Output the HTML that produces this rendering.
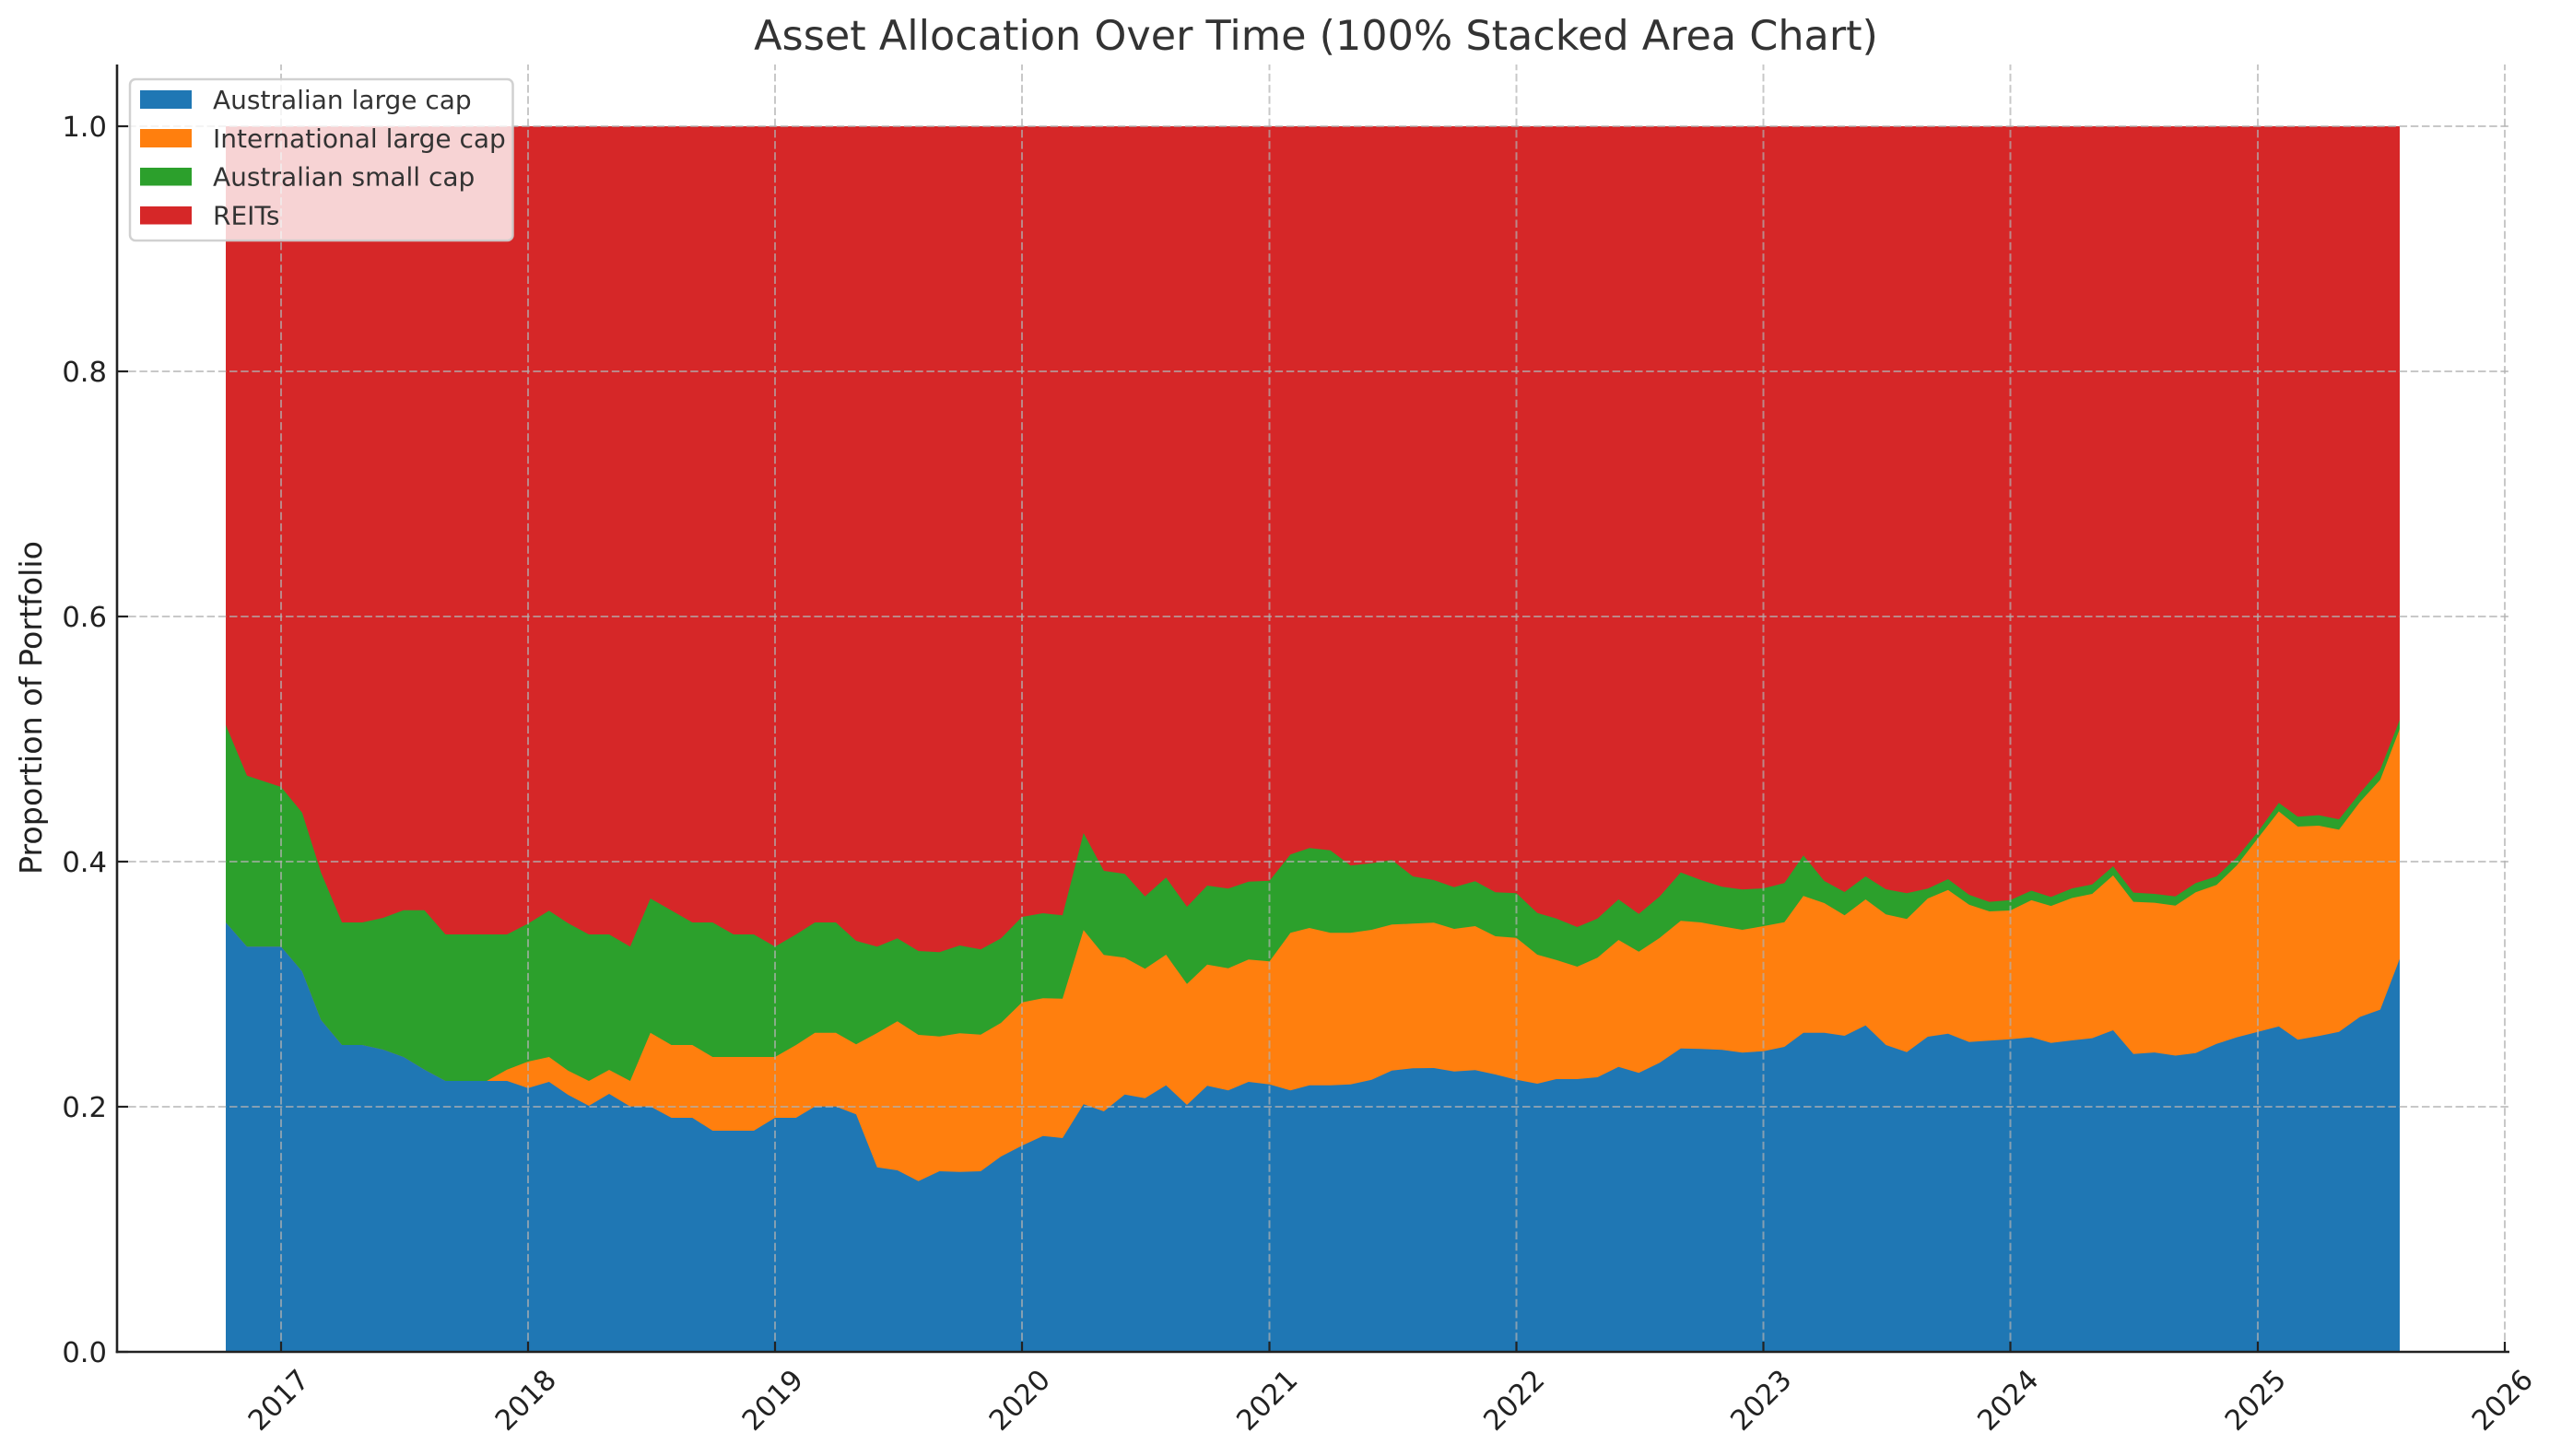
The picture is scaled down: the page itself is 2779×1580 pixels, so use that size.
<!DOCTYPE html>
<html>
<head>
<meta charset="utf-8">
<style>
  html, body { margin: 0; padding: 0; background: #ffffff; }
  svg { display: block; }
  text { font-family: "DejaVu Sans", "Liberation Sans", sans-serif; }
</style>
</head>
<body>
<svg width="2779" height="1580" viewBox="0 0 2779 1580" xmlns="http://www.w3.org/2000/svg">
  <rect x="0" y="0" width="2779" height="1580" fill="#ffffff"/>

  <!-- REITs (top layer area, drawn as full band first) -->
  <rect x="245" y="137" width="2359" height="1330" fill="#d62728"/>

  <!-- Australian small cap (cumulative b3) -->
  <polygon fill="#2ca02c" points="245,1467 245,786.7 268,841.7 305,854 327.8,881.7 348.3,946.7 371.1,1001 393.1,1001 415.8,996 437.9,987.7 460.6,987.7 483.4,1014 505.4,1014 528.2,1014 550.2,1014 573,1002.3 595.8,988.3 616.3,1001.7 639,1014 661,1014 683.8,1027.3 705.8,975 728.6,988 751.3,1001 773.3,1001 796,1014 818,1014 841,1027.3 863.8,1014 884.3,1001 907,1001 929,1021 951.8,1027.3 973.8,1018.3 996.6,1032 1019.4,1033.3 1041.4,1026 1064.2,1030.3 1086.2,1018.3 1109,995 1131.7,991 1153,993.3 1175.8,904 1197.8,945 1220.5,948.3 1242.5,972.7 1265.3,952.3 1288,984 1310,961 1332.8,964.3 1354.8,956.7 1377.6,955.7 1400.3,927.3 1420.9,920.3 1443.6,922.7 1465.6,939.3 1488.4,936.7 1510.4,933.3 1533.1,951 1555.9,955 1577.9,962.7 1600.7,956.3 1622.7,968.3 1645.5,969.3 1668.2,990.7 1688.8,996.7 1711.5,1006 1733.5,996.7 1756.3,976 1778.3,991.7 1801,972.7 1823.8,946.7 1845.8,955 1868.6,962.3 1890.6,965.3 1913.6,964 1936.3,958.3 1956.9,928.3 1979.6,956 2001.6,968 2024.4,951 2046.4,965 2069.1,969.3 2091.9,964.3 2113.9,954 2136.7,971 2158.7,978.7 2181.5,976.7 2204.3,966.5 2225.6,973.4 2248.3,964.1 2270.3,959.7 2293,940 2315,968.6 2337.8,970 2360.6,972.7 2382.6,958.3 2405.3,951 2427.3,930.4 2450,902.9 2472.8,871.2 2493.4,886.3 2516.1,884.6 2538.1,889.1 2560.9,860.5 2582.9,835 2604,781.3 2604,1467"/>

  <!-- International large cap (cumulative b2) -->
  <polygon fill="#ff7f0e" points="245,1467 245,1001 268,1027.3 305,1027.3 327.8,1054 348.3,1106.7 371.1,1134 393.1,1134 415.8,1139 437.9,1147 460.6,1160.7 483.4,1173 505.4,1173 528.2,1173 550.2,1160.7 573,1152 595.8,1147 616.3,1161.7 639,1173 661,1161 683.8,1173 705.8,1120.7 728.6,1134 751.3,1134 773.3,1147 796,1147 818,1147 841,1147 863.8,1134 884.3,1120.7 907,1120.7 929,1133.3 951.8,1121 973.8,1108.3 996.6,1123 1019.4,1124.7 1041.4,1121.3 1064.2,1122.7 1086.2,1110 1109,1087.7 1131.7,1083.3 1153,1083.7 1175.8,1009.3 1197.8,1036.3 1220.5,1039.3 1242.5,1051.3 1265.3,1036 1288,1067.7 1310,1046.7 1332.8,1050.7 1354.8,1041.3 1377.6,1043.3 1400.3,1012.3 1420.9,1007 1443.6,1012.3 1465.6,1012.3 1488.4,1009 1510.4,1003.3 1533.1,1002.3 1555.9,1001.3 1577.9,1008 1600.7,1005 1622.7,1016 1645.5,1017.7 1668.2,1036 1688.8,1041.7 1711.5,1049 1733.5,1039.3 1756.3,1020 1778.3,1032.7 1801,1017.7 1823.8,999.3 1845.8,1001 1868.6,1005.3 1890.6,1009 1913.6,1005 1936.3,1000.7 1956.9,972.3 1979.6,980 2001.6,993.3 2024.4,976 2046.4,992.3 2069.1,997.3 2091.9,975 2113.9,965.7 2136.7,981.7 2158.7,989 2181.5,988 2204.3,976.9 2225.6,983.1 2248.3,974.5 2270.3,970 2293,950 2315,978.6 2337.8,979.6 2360.6,982.7 2382.6,968.3 2405.3,960.3 2427.3,939 2450,909.7 2472.8,880.5 2493.4,897 2516.1,896 2538.1,900.4 2560.9,870.2 2582.9,846.1 2604,791 2604,1467"/>

  <!-- Australian large cap (b1) -->
  <polygon fill="#1f77b4" points="245,1467 245,1001 268,1027.3 305,1027.3 327.8,1054 348.3,1106.7 371.1,1134 393.1,1134 415.8,1139 437.9,1147 460.6,1160.7 483.4,1173 505.4,1173 528.2,1173 550.2,1173 573,1180.7 595.8,1174 616.3,1188 639,1200 661,1187 683.8,1200.7 705.8,1200.7 728.6,1213 751.3,1213 773.3,1227 796,1227 818,1227 841,1213 863.8,1213 884.3,1200.7 907,1200.7 929,1209.3 951.8,1266.7 973.8,1270 996.6,1281.7 1019.4,1271 1041.4,1271.7 1064.2,1271 1086.2,1255 1109,1243.3 1131.7,1232.7 1153,1235 1175.8,1198.3 1197.8,1206 1220.5,1187.7 1242.5,1191.7 1265.3,1177.7 1288,1199 1310,1178.3 1332.8,1183.3 1354.8,1174 1377.6,1176.7 1400.3,1183.3 1420.9,1177.7 1443.6,1177.7 1465.6,1176.7 1488.4,1171.7 1510.4,1161.7 1533.1,1159.3 1555.9,1159 1577.9,1162.7 1600.7,1161.3 1622.7,1166 1645.5,1171.7 1668.2,1176 1688.8,1171 1711.5,1171 1733.5,1169 1756.3,1157.7 1778.3,1164.3 1801,1153.3 1823.8,1137.7 1845.8,1138.3 1868.6,1139.3 1890.6,1142.3 1913.6,1140.7 1936.3,1136 1956.9,1120.7 1979.6,1120.7 2001.6,1124 2024.4,1112.7 2046.4,1134 2069.1,1141.7 2091.9,1125 2113.9,1121.7 2136.7,1130.7 2158.7,1129.3 2181.5,1127.7 2204.3,1125.6 2225.6,1131.8 2248.3,1129 2270.3,1126.6 2293,1118 2315,1143.8 2337.8,1142.1 2360.6,1145.5 2382.6,1142.8 2405.3,1132.8 2427.3,1125.6 2450,1119.7 2472.8,1113.9 2493.4,1128.3 2516.1,1124.2 2538.1,1119.7 2560.9,1103.5 2582.9,1095.6 2604,1040.5 2604,1467"/>

  <!-- Grid lines -->
  <g stroke="#b0b0b0" stroke-opacity="0.7" stroke-width="2" stroke-dasharray="8.5,3.7" fill="none">
    <line x1="305" y1="1467" x2="305" y2="70"/>
    <line x1="573" y1="1467" x2="573" y2="70"/>
    <line x1="841" y1="1467" x2="841" y2="70"/>
    <line x1="1109" y1="1467" x2="1109" y2="70"/>
    <line x1="1377.5" y1="1467" x2="1377.5" y2="70"/>
    <line x1="1645.5" y1="1467" x2="1645.5" y2="70"/>
    <line x1="1913.5" y1="1467" x2="1913.5" y2="70"/>
    <line x1="2181.5" y1="1467" x2="2181.5" y2="70"/>
    <line x1="2450" y1="1467" x2="2450" y2="70"/>
    <line x1="2718" y1="1467" x2="2718" y2="70"/>
    <line x1="127" y1="1201" x2="2723" y2="1201"/>
    <line x1="127" y1="935" x2="2723" y2="935"/>
    <line x1="127" y1="669" x2="2723" y2="669"/>
    <line x1="127" y1="403" x2="2723" y2="403"/>
    <line x1="127" y1="137" x2="2723" y2="137"/>
  </g>

  <!-- Spines -->
  <g stroke="#222222" stroke-width="2.6" fill="none">
    <line x1="127" y1="70" x2="127" y2="1468.3"/>
    <line x1="125.7" y1="1467" x2="2723" y2="1467"/>
  </g>

  <!-- Ticks (inward) -->
  <g stroke="#222222" stroke-width="2.2">
    <line x1="305" y1="1467" x2="305" y2="1456"/>
    <line x1="573" y1="1467" x2="573" y2="1456"/>
    <line x1="841" y1="1467" x2="841" y2="1456"/>
    <line x1="1109" y1="1467" x2="1109" y2="1456"/>
    <line x1="1377.5" y1="1467" x2="1377.5" y2="1456"/>
    <line x1="1645.5" y1="1467" x2="1645.5" y2="1456"/>
    <line x1="1913.5" y1="1467" x2="1913.5" y2="1456"/>
    <line x1="2181.5" y1="1467" x2="2181.5" y2="1456"/>
    <line x1="2450" y1="1467" x2="2450" y2="1456"/>
    <line x1="2718" y1="1467" x2="2718" y2="1456"/>
    <line x1="127" y1="1467" x2="139" y2="1467"/>
    <line x1="127" y1="1201" x2="139" y2="1201"/>
    <line x1="127" y1="935" x2="139" y2="935"/>
    <line x1="127" y1="669" x2="139" y2="669"/>
    <line x1="127" y1="403" x2="139" y2="403"/>
    <line x1="127" y1="137" x2="139" y2="137"/>
  </g>

  <!-- Y tick labels -->
  <g font-size="30.6" fill="#222222" text-anchor="end">
    <text x="116" y="1478">0.0</text>
    <text x="116" y="1212">0.2</text>
    <text x="116" y="946">0.4</text>
    <text x="116" y="680">0.6</text>
    <text x="116" y="414">0.8</text>
    <text x="116" y="148">1.0</text>
  </g>

  <!-- X tick labels (rotated 45) -->
  <g font-size="30.6" fill="#222222" text-anchor="middle">
    <text transform="translate(302,1519) rotate(-45)" x="0" y="11">2017</text>
    <text transform="translate(570,1519) rotate(-45)" x="0" y="11">2018</text>
    <text transform="translate(838,1519) rotate(-45)" x="0" y="11">2019</text>
    <text transform="translate(1106,1519) rotate(-45)" x="0" y="11">2020</text>
    <text transform="translate(1374.5,1519) rotate(-45)" x="0" y="11">2021</text>
    <text transform="translate(1642.5,1519) rotate(-45)" x="0" y="11">2022</text>
    <text transform="translate(1910.5,1519) rotate(-45)" x="0" y="11">2023</text>
    <text transform="translate(2178.5,1519) rotate(-45)" x="0" y="11">2024</text>
    <text transform="translate(2447,1519) rotate(-45)" x="0" y="11">2025</text>
    <text transform="translate(2715,1519) rotate(-45)" x="0" y="11">2026</text>
  </g>

  <!-- Y axis label -->
  <text transform="translate(45,768) rotate(-90)" text-anchor="middle" font-size="33.3" fill="#222222">Proportion of Portfolio</text>

  <!-- Title -->
  <text x="1428" y="54" text-anchor="middle" font-size="44.5" fill="#333333">Asset Allocation Over Time (100% Stacked Area Chart)</text>

  <!-- Legend -->
  <rect x="141" y="86" width="415.5" height="175" rx="6" ry="6" fill="#ffffff" fill-opacity="0.8" stroke="#cccccc" stroke-opacity="0.9" stroke-width="2.5"/>
  <rect x="152" y="98" width="56" height="20" fill="#1f77b4"/>
  <rect x="152" y="140" width="56" height="20" fill="#ff7f0e"/>
  <rect x="152" y="182" width="56" height="19.5" fill="#2ca02c"/>
  <rect x="152" y="224" width="56" height="19.5" fill="#d62728"/>
  <g font-size="28" fill="#333333">
    <text x="231" y="118">Australian large cap</text>
    <text x="231" y="160">International large cap</text>
    <text x="231" y="201.5">Australian small cap</text>
    <text x="231" y="243.5">REITs</text>
  </g>
</svg>
</body>
</html>
